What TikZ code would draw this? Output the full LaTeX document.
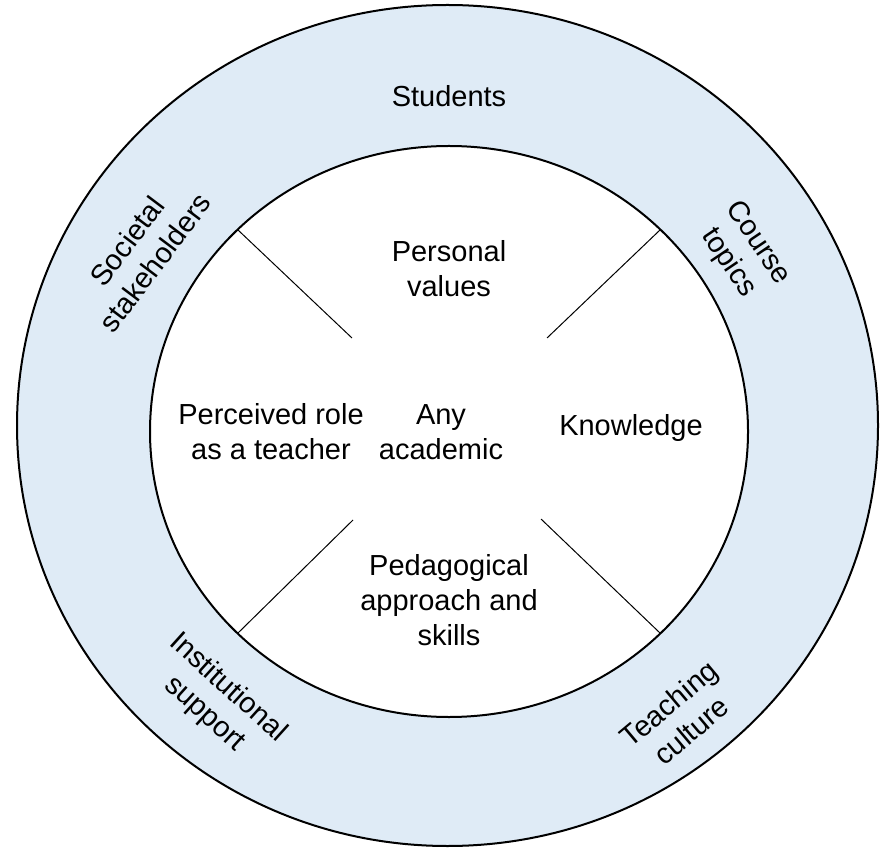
\documentclass[tikz,border=0pt]{standalone}
\usepackage{fontspec}
\setmainfont{Liberation Sans}
\definecolor{ringblue}{RGB}{223,235,246}
\begin{document}
\begin{tikzpicture}[x=0.5pt,y=-0.5pt,
  lbl/.style={font=\fontsize{14.5pt}{17.5pt}\selectfont, align=center, inner sep=0pt, text=black},
  ring/.style={line width=1pt, draw=black},
  divider/.style={line width=0.5pt, draw=black}]
\useasboundingbox (0,0) rectangle (882,849);
% rings
\draw[ring, fill=ringblue] (447.5,425.5) ellipse [x radius=430.5, y radius=420.5];
\draw[ring, fill=white] (449,431.5) ellipse [x radius=299, y radius=285.5];
% divider end points
\coordinate (ulo) at (238,230);
\coordinate (uli) at (352,338);
\coordinate (uro) at (660,230);
\coordinate (uri) at (547,338);
\coordinate (llo) at (238,633);
\coordinate (lli) at (353,520);
\coordinate (lro) at (660,633);
\coordinate (lri) at (541,519);
\draw[divider] (ulo) -- (uli);
\draw[divider] (uro) -- (uri);
\draw[divider] (llo) -- (lli);
\draw[divider] (lro) -- (lri);
% inner labels (base anchor = baseline of last line)
\node[lbl, anchor=base] (personal) at (449,297) {Personal\\values};
\node[lbl, anchor=base] (role) at (271,459) {Perceived role\\as a teacher};
\node[lbl, anchor=base] (any) at (441,459) {Any\\academic};
\node[lbl, anchor=base] (knowledge) at (631,436) {Knowledge};
\node[lbl, anchor=base] (pedagogy) at (449,645) {Pedagogical\\approach and\\skills};
% ring labels
\node[lbl, anchor=base] (students) at (449,107) {Students};
\node[lbl, rotate=53] (societal) at (141,252) {Societal\\stakeholders};
\node[lbl, rotate=-56] (course) at (743,253) {Course\\topics};
\node[lbl, rotate=-42] (institutional) at (216,701) {Institutional\\support};
\node[lbl, rotate=40] (teaching) at (680,717) {Teaching\\culture};
\end{tikzpicture}
\end{document}
